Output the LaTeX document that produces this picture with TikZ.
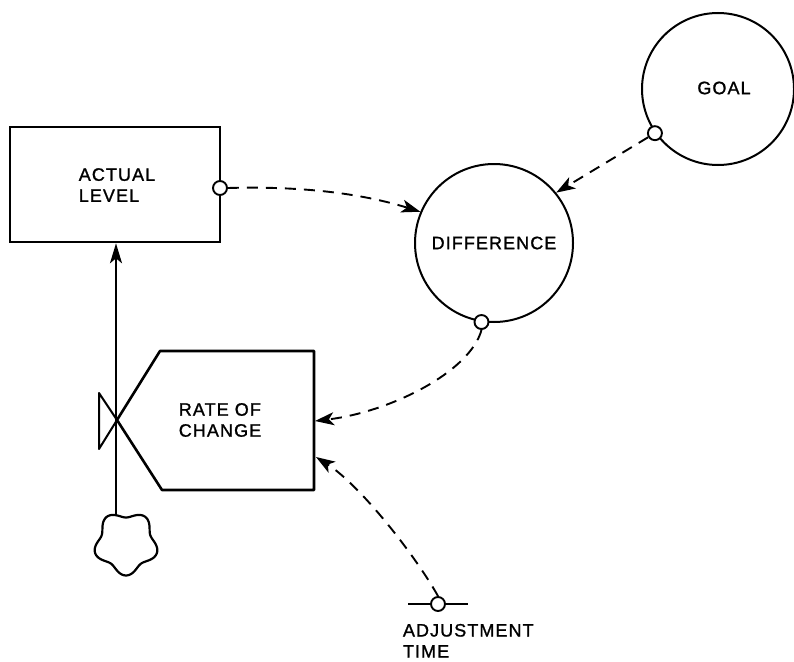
\documentclass[tikz,border=0pt]{standalone}
\usepackage{fontspec}
\setmainfont[LetterSpace=6,FakeBold=1.2]{Liberation Sans}
\usetikzlibrary{arrows.meta}
\begin{document}
\begin{tikzpicture}[x=1pt,y=-1pt,line width=1.9pt,
  lbl/.style={font=\fontsize{18}{21}\selectfont,align=left,inner sep=0pt},
  tap/.style={circle,draw,fill=white,inner sep=0pt,minimum size=14pt,line width=1.9pt},
  aux/.style={circle,draw,line width=2pt,inner sep=0pt},
  info/.style={dash pattern=on 11pt off 8pt,-{Stealth[length=19pt,width=13pt,inset=5pt]},line width=1.9pt},
  flow/.style={line width=2pt,-{Stealth[length=20pt,width=12pt,inset=5pt]}}]
\useasboundingbox (0,0) rectangle (794,661);
% level
\node[draw,line width=2.6pt,minimum width=210pt,minimum height=115pt] (level) at (115,184.5) {};
\node[lbl] (leveltxt) at (117,185) {ACTUAL\\LEVEL};
% auxiliaries
\node[aux,minimum size=158pt] (diff) at (494,243) {};
\node[lbl] (difftxt) at (diff.center) {DIFFERENCE};
\node[aux,minimum size=152pt] (goal) at (718,89) {};
\node[lbl] (goaltxt) at (724,88) {GOAL};
% rate
\draw[line width=2.6pt,line join=round] (117,420) -- (160,351) -- (314,351) -- (314,490) -- (162,490) -- cycle;
\draw[line width=2pt,line join=round] (117,420) -- (99,393) -- (99,449) -- cycle;
\node[lbl] (rate) at (220,420) {RATE OF\\CHANGE};
\coordinate (rateInA) at (315,421);
\coordinate (rateInB) at (316,457);
% cloud and flow
\draw[line width=2.2pt] plot[domain=0:360,samples=120,smooth cycle]
  ({126+29*(1+0.12*cos(5*\x+270))*cos(\x)},{543+29*(1+0.12*cos(5*\x+270))*sin(\x)});
\coordinate (cloudtop) at (116,514);
\draw[flow] (cloudtop) -- (cloudtop |- level.south);
% taps
\node[tap] (lvtap) at (220,188) {};
\node[tap] (goaltap) at (goal.215) {};
\node[tap] (difftap) at (diff.261) {};
% adjustment time
\coordinate (adjL) at (408,604);
\coordinate (adjR) at (468,604);
\draw (adjL) -- (adjR);
\node[tap] (adj) at (438,604) {};
\node[lbl,anchor=north west] (adjtxt) at (402,623) {ADJUSTMENT\\TIME};
% information links
\draw[info] (lvtap.east) .. controls (300,186) and (360,193) .. (diff.157);
\draw[info] (goaltap) -- (diff.39);
\draw[info] (difftap.south) .. controls (470,372) and (390,412) .. (rateInA);
\draw[info] (adj.north) .. controls (415,555) and (360,485) .. (rateInB);
\end{tikzpicture}
\end{document}
